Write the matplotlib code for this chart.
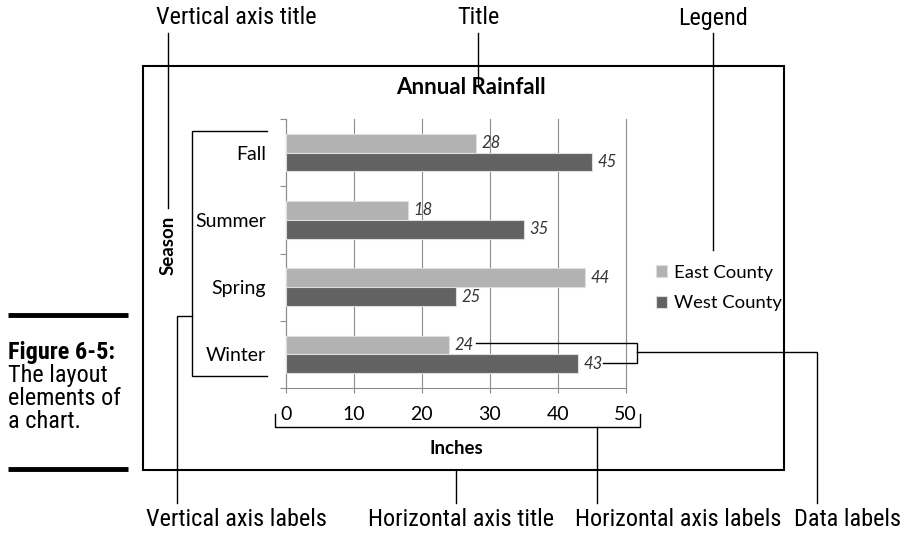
# Annual rainfall bar chart with callouts naming each chart element

import matplotlib.pyplot as plt
from matplotlib import font_manager
from matplotlib.font_manager import FontProperties
from matplotlib.patches import Rectangle

seasons = ['Winter', 'Spring', 'Summer', 'Fall']
east = [24, 44, 18, 28]
west = [43, 25, 35, 45]
x_ticks = [0, 10, 20, 30, 40, 50]


def weight_num(w):
    if isinstance(w, str):
        return font_manager.weight_dict.get(w, 400)
    return w


# look for a narrow face for the callout text, like the book's condensed font
def rank(f):
    for i, key in enumerate(['Liberation Sans Narrow', 'Roboto Condensed', 'Narrow']):
        if key in f.name:
            return i
    return 9


narrow_faces = sorted([f for f in font_manager.fontManager.ttflist
                       if f.style == 'normal' and rank(f) < 9], key=rank)
regular = [f for f in narrow_faces if weight_num(f.weight) == 400]
bold = [f for f in narrow_faces if weight_num(f.weight) == 700]


def narrow_font(size, heavy=False):
    pool = bold if heavy else regular
    if pool:
        return FontProperties(fname=pool[0].fname, size=size)
    return FontProperties(family='Roboto', size=size * 0.85,
                          weight='bold' if heavy else 'normal')


chart_font = 'Lato'

W, H = 909, 534
fig = plt.figure(figsize=(W / 100, H / 100), dpi=100)


def px_box(left, top, right, bottom):
    return [left / W, 1 - bottom / H, (right - left) / W, (bottom - top) / H]


# the chart itself, placed by pixel
ax = fig.add_axes(px_box(286, 119, 625.5, 388))
y = list(range(len(seasons)))
h = 0.28
b_east = ax.barh([v + h / 2 for v in y], east, height=h, color='#b2b2b2',
                 edgecolor='#dedede', linewidth=0.8, label='East County', zorder=3)
b_west = ax.barh([v - h / 2 for v in y], west, height=h, color='#626262',
                 edgecolor='#dedede', linewidth=0.8, label='West County', zorder=3)
for bars in (b_east, b_west):
    ax.bar_label(bars, padding=4, fontstyle='italic', fontsize=12,
                 color='#333333', family=chart_font)

ax.set_xlim(0, 50)
ax.set_ylim(-0.5, 3.5)
ax.set_xticks(x_ticks)
ax.set_xticklabels([str(t) for t in x_ticks], fontsize=14, family=chart_font)
ax.set_yticks(y)
ax.set_yticklabels(seasons, fontsize=14, family=chart_font)
ax.set_yticks([v - 0.5 for v in y] + [3.5], minor=True)
ax.tick_params(axis='y', which='major', length=0, pad=14.4)
ax.tick_params(axis='y', which='minor', length=4.5, color='#8c8c8c', width=0.8)
ax.tick_params(axis='x', length=3.6, color='#8c8c8c', width=0.8, pad=9)
ax.xaxis.grid(True, color='#8c8c8c', linewidth=0.8, zorder=0)
for gl in ax.get_xgridlines():
    gl.set_clip_on(False)
for side in ('top', 'right'):
    ax.spines[side].set_visible(False)
for side in ('left', 'bottom'):
    ax.spines[side].set_color('#8c8c8c')
    ax.spines[side].set_linewidth(0.8)

fig.legend(handles=[b_east, b_west], loc='center left',
           bbox_to_anchor=(639 / W, 1 - 288 / H), frameon=False,
           prop={'family': chart_font, 'size': 13.3},
           handlelength=0.6, handleheight=0.6, handletextpad=0.4,
           labelspacing=0.8)

# overlay in pixel units for frame, callouts and caption
ov = fig.add_axes([0, 0, 1, 1], zorder=5)
ov.set_xlim(0, W)
ov.set_ylim(H, 0)
ov.axis('off')

ov.add_patch(Rectangle((143, 66), 641, 404, fill=False, edgecolor='black', linewidth=1.5))
ov.text(471, 88, 'Annual Rainfall', ha='center', va='center', fontsize=16,
        fontweight='bold', family=chart_font)
ov.text(456, 449, 'Inches', ha='center', va='center', fontsize=13.5,
        fontweight='bold', family=chart_font)
ov.text(168, 245, 'Season', ha='center', va='center', rotation=90, fontsize=13.5,
        fontweight='bold', family=chart_font)

callouts = [
    [(168, 33), (168, 208)],
    [(478, 33), (478, 86)],
    [(713, 33), (713, 250)],
    [(267, 131), (192, 131), (192, 376), (267, 376)],
    [(192, 316), (177, 316), (177, 503)],
    [(275, 414), (275, 427), (640, 427), (640, 414)],
    [(597, 427), (597, 503)],
    [(456, 470), (456, 503)],
    [(476, 343), (637, 343), (637, 363), (603, 363)],
    [(637, 352), (817, 352), (817, 503)],
]
for pts in callouts:
    xs, ys = zip(*pts)
    ov.plot(xs, ys, color='black', linewidth=1.0, solid_joinstyle='miter')

label_size = 17.5
top_labels = [('Vertical axis title', 236), ('Title', 478), ('Legend', 713)]
for txt, cx in top_labels:
    ov.text(cx, 18, txt, ha='center', va='center', fontproperties=narrow_font(label_size))
bottom_labels = [('Vertical axis labels', 236), ('Horizontal axis title', 461),
                 ('Horizontal axis labels', 678), ('Data labels', 847)]
for txt, cx in bottom_labels:
    ov.text(cx, 520, txt, ha='center', va='center', fontproperties=narrow_font(label_size))

# figure caption on the left
ov.plot([8, 128], [315, 315], color='black', linewidth=3.5, solid_capstyle='butt')
ov.plot([8, 128], [469, 469], color='black', linewidth=3.5, solid_capstyle='butt')
ov.text(8, 353, 'Figure 6-5:', ha='left', va='center',
        fontproperties=narrow_font(label_size, heavy=True))
for i, line in enumerate(['The layout', 'elements of', 'a chart.']):
    ov.text(8, 375.5 + i * 23, line, ha='left', va='center',
            fontproperties=narrow_font(label_size))

plt.savefig('out.png', dpi=100)
